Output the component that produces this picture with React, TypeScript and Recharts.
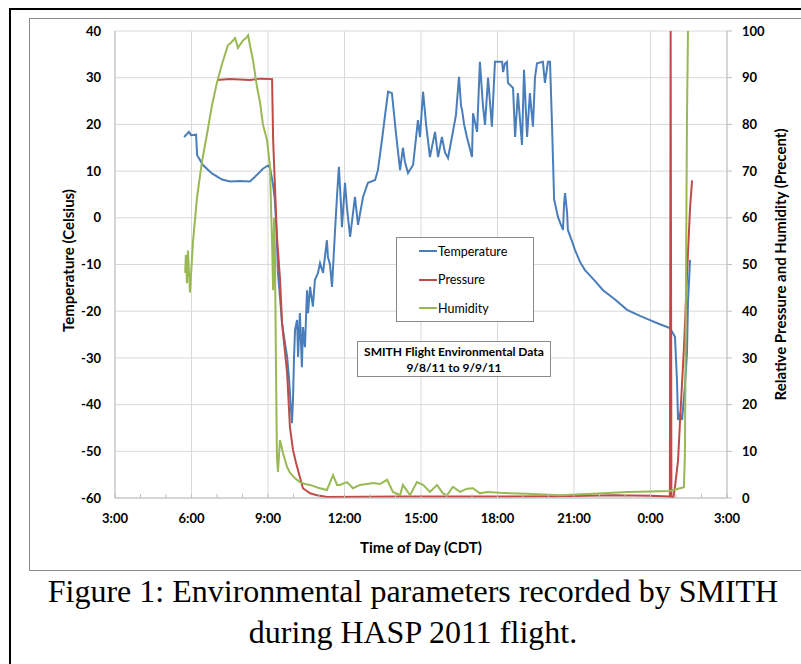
import { LineChart, Line, XAxis, YAxis, CartesianGrid } from 'recharts'

// [hour of day since 0:00 on 9/8 (values past 24 are the next day), value]
const temperaturePoints: [number, number][] = [
  [5.71, 17.3], [5.9, 18.4], [5.98, 17.7], [6.18, 17.8], [6.22, 13.4], [6.45, 11.3],
  [6.8, 9.5], [7.2, 8.2], [7.51, 7.8], [7.9, 7.9], [8.29, 7.8], [8.57, 9.2], [8.8, 10.5],
  [9.0, 11.2], [9.08, 10.7], [9.2, 7.0], [9.27, 3.8], [9.35, -4.8], [9.39, -11.8],
  [9.47, -17], [9.55, -22.5], [9.67, -27], [9.75, -29.8], [9.82, -34], [9.86, -37.5],
  [9.94, -44], [9.98, -39], [10.02, -30], [10.06, -24], [10.14, -21.9], [10.18, -29.8],
  [10.25, -20.4], [10.33, -32], [10.37, -23.4], [10.45, -27.7], [10.53, -15.5],
  [10.57, -20.4], [10.65, -14.8], [10.76, -19], [10.84, -13.3], [10.96, -11.8],
  [11.04, -9.7], [11.16, -11.8], [11.24, -8], [11.31, -4.8], [11.35, -8.4], [11.43, -10],
  [11.51, -14.8], [11.63, -2.6], [11.71, 5], [11.78, 10.9], [11.86, 3], [11.9, -2.0],
  [12.02, 7.5], [12.1, 2], [12.22, -4.1], [12.41, 4.5], [12.53, -1.5], [12.73, 4.5],
  [12.92, 7.5], [13.2, 8.1], [13.31, 10.2], [13.47, 16.7], [13.59, 22], [13.71, 27],
  [13.86, 26.7], [14.02, 18], [14.18, 10.2], [14.29, 15], [14.37, 12], [14.49, 9.6],
  [14.69, 11.3], [14.88, 20.9], [14.96, 17.3], [15.08, 27], [15.2, 20], [15.35, 13],
  [15.55, 18.4], [15.67, 13], [15.82, 17.3], [15.94, 14], [16.06, 12.8], [16.25, 18.4],
  [16.37, 22], [16.49, 30.2], [16.57, 24], [16.61, 23.1], [16.69, 20], [16.8, 17.3],
  [17.0, 13], [17.04, 22.4], [17.2, 18.4], [17.31, 33.4], [17.43, 24], [17.51, 19.9],
  [17.63, 30], [17.78, 19.5], [17.9, 33.4], [18.18, 33.4], [18.22, 31.2], [18.29, 33],
  [18.37, 33.4], [18.41, 28.9], [18.61, 27.8], [18.69, 17.3], [18.8, 26.7], [18.96, 15.6],
  [19.04, 31.7], [19.16, 17.3], [19.27, 26.7], [19.39, 19.5], [19.47, 30], [19.55, 33.1],
  [19.78, 33.4], [19.86, 28.9], [19.98, 33.4], [20.06, 33.4], [20.14, 19.5], [20.22, 4],
  [20.37, 0.2], [20.49, -1.5], [20.57, -2.6], [20.61, 3], [20.65, 5.3], [20.73, 1],
  [20.76, -2.6], [20.92, -5], [21.04, -6.9], [21.24, -9.5], [21.43, -11.2], [21.82, -13.5],
  [22.14, -15.5], [22.61, -17.5], [23.08, -19.7], [23.59, -21], [23.98, -21.9],
  [24.37, -22.8], [24.76, -23.6], [24.88, -24.7], [24.96, -25.5], [25.04, -35],
  [25.08, -43.3], [25.16, -42], [25.24, -43.3], [25.35, -36], [25.43, -29], [25.47, -18.2],
  [25.55, -9],
]

const pressurePoints: [number, number][] = [
  [7.0, 89.5], [7.51, 89.7], [8.29, 89.5], [8.69, 89.8], [9.16, 89.7], [9.2, 77], [9.27, 67],
  [9.35, 56], [9.47, 47], [9.55, 37.5], [9.67, 31], [9.75, 26.8], [9.86, 15.2], [9.98, 10.3],
  [10.1, 7.5], [10.25, 4.5], [10.37, 2.1], [10.65, 1.0], [10.92, 0.6], [11.31, 0.2],
  [14.18, 0.3], [18.1, 0.3], [20.45, 0.4], [22.53, 0.6], [23.98, 0.5], [24.76, 0.3],
  [24.79, 100], [24.82, 0.2], [24.9, 0.2], [24.96, 2.4], [25.08, 8], [25.16, 16.7],
  [25.31, 32], [25.47, 52.5], [25.55, 62], [25.63, 68],
]

const humidityPoints: [number, number][] = [
  [5.75, 48.2], [5.78, 52], [5.82, 46], [5.86, 53], [5.94, 44], [6.06, 55], [6.22, 64.5],
  [6.41, 72], [6.61, 78], [6.8, 84], [7.0, 89], [7.2, 93], [7.43, 97], [7.55, 97.5],
  [7.71, 98.5], [7.82, 96.4], [8.02, 98], [8.14, 98.5], [8.22, 99.1], [8.29, 97], [8.41, 93.8],
  [8.57, 88], [8.69, 84.6], [8.8, 80], [8.96, 76.7], [9.08, 70.9], [9.12, 62], [9.16, 55],
  [9.2, 44.5], [9.24, 60], [9.27, 53.7], [9.31, 30], [9.35, 8.8], [9.39, 5.6], [9.47, 12.4],
  [9.59, 9.6], [9.75, 6.6], [9.86, 5.4], [10.06, 4.2], [10.25, 3.4], [10.45, 3.0],
  [10.65, 2.8], [10.96, 2.2], [11.31, 1.7], [11.55, 4.9], [11.71, 2.8], [11.82, 2.8],
  [12.1, 3.4], [12.33, 2.1], [12.61, 2.8], [12.88, 3.0], [13.12, 3.2], [13.39, 3.0],
  [13.67, 3.9], [13.9, 1.3], [14.18, 0.6], [14.29, 2.8], [14.57, 0.6], [14.84, 3.4],
  [15.08, 2.8], [15.35, 1.3], [15.63, 2.8], [15.86, 1.0], [16.02, 0.6], [16.25, 2.4],
  [16.53, 1.3], [16.8, 2.0], [17.04, 2.1], [17.31, 1.0], [17.59, 1.3], [18.1, 1.1],
  [19.16, 0.9], [20.45, 0.6], [21.75, 0.9], [23.08, 1.3], [23.98, 1.4], [24.76, 1.5],
  [25.16, 2.1], [25.31, 2.3], [25.35, 9.6], [25.39, 45], [25.43, 81], [25.47, 100],
]

const seriesNames = ['Temperature', 'Pressure', 'Humidity']
const seriesColors = ['#4A7EBB', '#BE4B48', '#98B954']

const hourTicks = [3, 4, 5, 6, 7, 8, 9, 10, 11, 12, 13, 14, 15, 16, 17, 18, 19, 20, 21, 22, 23, 24, 25, 26, 27]
const majorHours = [3, 6, 9, 12, 15, 18, 21, 24, 27]
const tempTicks = [-60, -50, -40, -30, -20, -10, 0, 10, 20, 30, 40]
const percentTicks = [0, 10, 20, 30, 40, 50, 60, 70, 80, 90, 100]

const toRows = (pts: [number, number][]) => pts.map(([h, v]) => ({ h, v }))

const AXIS_GRAY = '#BFBFBF'
const GRID_GRAY = '#D9D9D9'
const FONT = 'Lato, "Open Sans", sans-serif'

function HourTick({ x, y, payload }: any) {
  const h = payload.value
  return (
    <g>
      <line x1={x} x2={x} y1={y} y2={y - 4} stroke={AXIS_GRAY} />
      {h % 3 === 0 && (
        <text x={x} y={y + 25} textAnchor="middle" fill="#000" fontSize={13} fontWeight={700}>
          {`${h % 24}:00`}
        </text>
      )}
    </g>
  )
}

export default function App() {
  const tickStyle = { fill: '#000', fontSize: 13, fontWeight: 700 }
  const lines = [temperaturePoints, pressurePoints, humidityPoints]

  return (
    <div
      style={{
        position: 'absolute',
        left: 0,
        top: 0,
        width: 801,
        height: 664,
        background: '#fff',
        overflow: 'hidden',
      }}
    >
      {/* outer figure frame */}
      <div
        style={{
          position: 'absolute',
          left: 9,
          top: 8,
          width: 820,
          height: 700,
          borderLeft: '2px solid #000',
          borderTop: '2px solid #000',
        }}
      />
      {/* chart frame */}
      <div
        style={{
          position: 'absolute',
          left: 29,
          top: 18,
          width: 800,
          height: 551,
          border: '1px solid #8a8a8a',
        }}
      />
      <div style={{ position: 'absolute', left: 30, top: 19 }}>
        <LineChart
          width={771}
          height={551}
          margin={{ top: 12, right: 14, bottom: 0, left: 0 }}
          style={{ fontFamily: FONT }}
        >
          <CartesianGrid
            yAxisId="left"
            horizontalValues={tempTicks}
            verticalValues={majorHours}
            stroke={GRID_GRAY}
          />
          <XAxis
            dataKey="h"
            type="number"
            domain={[3, 27]}
            ticks={hourTicks}
            interval={0}
            tick={<HourTick />}
            tickLine={false}
            tickSize={0}
            tickMargin={0}
            height={72}
            axisLine={{ stroke: AXIS_GRAY }}
            label={{
              value: 'Time of Day (CDT)',
              position: 'center',
              dy: 14,
              fill: '#000',
              fontSize: 15,
              fontWeight: 700,
            }}
          />
          <YAxis
            yAxisId="left"
            domain={[-60, 40]}
            ticks={tempTicks}
            width={85}
            tick={tickStyle}
            tickLine={false}
            tickMargin={8}
            axisLine={{ stroke: AXIS_GRAY }}
            label={{
              value: 'Temperature (Celsius)',
              angle: -90,
              position: 'center',
              dx: -4,
              dy: -4,
              fill: '#000',
              fontSize: 15,
              fontWeight: 700,
            }}
          />
          <YAxis
            yAxisId="right"
            orientation="right"
            domain={[0, 100]}
            ticks={percentTicks}
            width={60}
            tick={tickStyle}
            tickSize={5}
            tickMargin={10}
            tickLine={{ stroke: AXIS_GRAY }}
            axisLine={{ stroke: AXIS_GRAY }}
            label={{
              value: 'Relative Pressure and Humidity  (Precent)',
              angle: -90,
              position: 'center',
              dx: 24,
              fill: '#000',
              fontSize: 15,
              fontWeight: 700,
            }}
          />
          {lines.map((pts, i) => (
            <Line
              key={seriesNames[i]}
              yAxisId={i === 0 ? 'left' : 'right'}
              data={toRows(pts)}
              dataKey="v"
              name={seriesNames[i]}
              type="linear"
              stroke={seriesColors[i]}
              strokeWidth={2}
              dot={false}
              isAnimationActive={false}
            />
          ))}
        </LineChart>
      </div>

      {/* legend */}
      <div
        style={{
          position: 'absolute',
          left: 396,
          top: 237,
          width: 136,
          height: 83,
          background: '#fff',
          border: '1px solid #8a8a8a',
          fontFamily: FONT,
          fontSize: 12.5,
        }}
      >
        {seriesNames.map((name, i) => (
          <div
            key={name}
            style={{
              position: 'absolute',
              left: 22,
              top: 3 + i * 28.5,
              height: 20,
              display: 'flex',
              alignItems: 'center',
              whiteSpace: 'nowrap',
            }}
          >
            <span style={{ width: 18, height: 2, background: seriesColors[i], display: 'inline-block' }} />
            <span style={{ marginLeft: 1 }}>{name}</span>
          </div>
        ))}
      </div>

      {/* chart title box */}
      <div
        style={{
          position: 'absolute',
          left: 357,
          top: 341,
          width: 194,
          height: 36,
          background: '#fff',
          border: '1px solid #8a8a8a',
          fontFamily: FONT,
          fontSize: 12,
          fontWeight: 700,
          textAlign: 'center',
          lineHeight: '16px',
          paddingTop: 2,
          boxSizing: 'border-box',
        }}
      >
        <div>SMITH Flight Environmental Data</div>
        <div>9/8/11 to 9/9/11</div>
      </div>

      {/* caption */}
      <div
        style={{
          position: 'absolute',
          left: 9,
          top: 571,
          width: 808,
          textAlign: 'center',
          fontFamily: '"Liberation Serif", "Times New Roman", serif',
          fontSize: 32,
          lineHeight: '41px',
          color: '#000',
        }}
      >
        <div>Figure 1: Environmental parameters recorded by SMITH</div>
        <div>during HASP 2011 flight.</div>
      </div>
    </div>
  )
}
